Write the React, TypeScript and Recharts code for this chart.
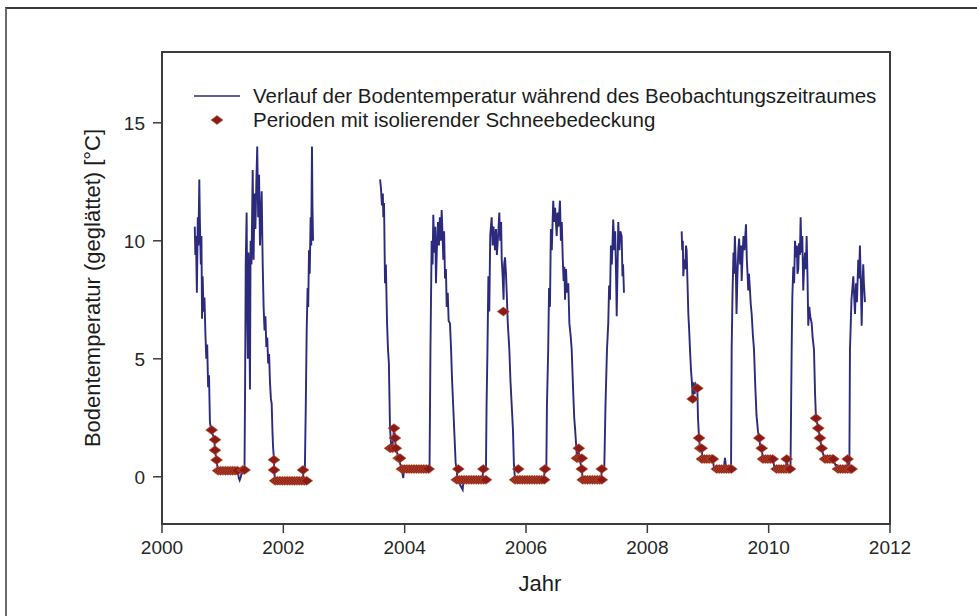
import { ComposedChart, Line, Scatter, XAxis, YAxis, ReferenceArea, Label } from 'recharts'

const yearTicks = [2000, 2002, 2004, 2006, 2008, 2010, 2012]
const tempTicks = [0, 5, 10, 15]

// [year, smoothed soil temperature]
const record2000to2002: [number, number][] = [
  [2000.54, 10.6], [2000.55, 9.4], [2000.56, 10.2], [2000.575, 7.8], [2000.59, 11.0], [2000.6, 9.8],
  [2000.615, 12.6], [2000.625, 10.8], [2000.64, 9.0], [2000.65, 10.2], [2000.66, 6.7], [2000.67, 8.5],
  [2000.685, 7.0], [2000.7, 7.6], [2000.715, 6.1], [2000.73, 5.0], [2000.745, 5.6], [2000.76, 3.8],
  [2000.775, 4.3], [2000.79, 2.3], [2000.81, 2.0], [2000.86, 1.6], [2000.875, 1.1], [2000.9, 0.7],
  [2000.92, 0.3], [2001.25, 0.3], [2001.265, -0.05], [2001.28, -0.15], [2001.3, 0.0], [2001.32, 0.3],
  [2001.36, 0.3], [2001.37, 4.0], [2001.38, 9.0], [2001.395, 11.2], [2001.405, 7.0], [2001.415, 5.0],
  [2001.425, 9.5], [2001.435, 8.0], [2001.45, 3.7], [2001.46, 10.0], [2001.475, 9.0], [2001.495, 13.0],
  [2001.51, 9.2], [2001.525, 12.0], [2001.54, 10.5], [2001.555, 12.5], [2001.57, 14.0], [2001.585, 11.0],
  [2001.6, 12.8], [2001.615, 9.8], [2001.63, 11.0], [2001.643, 12.1], [2001.66, 9.0], [2001.675, 7.2],
  [2001.69, 6.2], [2001.705, 6.8], [2001.72, 5.5], [2001.735, 5.9], [2001.75, 4.8], [2001.765, 5.2],
  [2001.78, 4.0], [2001.795, 3.3], [2001.808, 3.1], [2001.82, 2.0], [2001.83, 1.3], [2001.846, 0.72],
  [2001.85, 0.29], [2001.863, -0.17], [2002.32, -0.17], [2002.335, 0.3], [2002.355, 0.3], [2002.37, 3.0],
  [2002.385, 6.2], [2002.4, 8.0], [2002.41, 7.2], [2002.423, 9.6], [2002.435, 8.6], [2002.45, 11.0],
  [2002.46, 9.8], [2002.472, 14.0], [2002.48, 11.5], [2002.49, 10.0],
]

const record2003to2007: [number, number][] = [
  [2003.595, 12.6], [2003.61, 12.2], [2003.625, 11.5], [2003.64, 12.0], [2003.648, 11.0], [2003.66, 11.6],
  [2003.676, 8.2], [2003.69, 9.0], [2003.71, 6.5], [2003.725, 5.4], [2003.74, 4.8], [2003.758, 2.1],
  [2003.78, 1.21], [2003.8, 1.3], [2003.824, 2.06], [2003.84, 1.64], [2003.855, 1.21], [2003.9, 0.79],
  [2003.951, 0.33], [2003.977, -0.05], [2003.99, 0.33], [2004.41, 0.33],
  [2004.425, 5.4], [2004.445, 10.0], [2004.46, 9.0], [2004.472, 11.1], [2004.49, 9.5], [2004.505, 10.6],
  [2004.516, 8.2], [2004.53, 9.6], [2004.549, 10.8], [2004.565, 9.8], [2004.58, 11.0], [2004.595, 10.0],
  [2004.61, 11.3], [2004.625, 10.2], [2004.637, 9.2], [2004.65, 10.4], [2004.665, 8.4], [2004.68, 8.8],
  [2004.693, 7.2], [2004.71, 7.8], [2004.725, 6.6], [2004.747, 6.5], [2004.765, 5.4], [2004.78, 4.2],
  [2004.8, 3.0], [2004.82, 1.8], [2004.84, 0.6], [2004.857, 0.33], [2004.87, -0.13], [2004.956, -0.55],
  [2004.97, -0.13], [2005.28, -0.13], [2005.297, 0.33], [2005.34, 0.33],
  [2005.35, 3.0], [2005.365, 5.4], [2005.38, 8.5], [2005.395, 7.0], [2005.41, 10.2], [2005.434, 11.0],
  [2005.45, 9.8], [2005.465, 10.6], [2005.489, 9.6], [2005.505, 10.5], [2005.52, 9.4], [2005.54, 10.2],
  [2005.56, 11.2], [2005.575, 10.0], [2005.59, 10.8], [2005.6, 9.2], [2005.615, 8.5], [2005.63, 7.5],
  [2005.64, 9.0], [2005.654, 9.3], [2005.67, 8.6], [2005.682, 7.8], [2005.7, 6.5], [2005.725, 5.4],
  [2005.745, 4.0], [2005.765, 3.0], [2005.785, 2.0], [2005.8, 0.6], [2005.818, -0.13], [2006.29, -0.13],
  [2006.313, 0.33], [2006.335, 0.33],
  [2006.345, 3.0], [2006.366, 5.4], [2006.38, 8.0], [2006.395, 7.2], [2006.41, 10.5], [2006.425, 9.6],
  [2006.449, 11.7], [2006.465, 10.8], [2006.48, 11.4], [2006.506, 10.2], [2006.52, 11.2], [2006.535, 10.6],
  [2006.56, 11.7], [2006.575, 10.0], [2006.59, 10.8], [2006.605, 9.3], [2006.62, 8.3], [2006.633, 8.9],
  [2006.643, 7.5], [2006.66, 8.8], [2006.675, 7.8], [2006.697, 8.2], [2006.715, 6.5], [2006.735, 6.0],
  [2006.753, 5.4], [2006.775, 3.8], [2006.795, 2.5], [2006.81, 2.0], [2006.84, 0.79], [2006.87, 1.21],
  [2006.88, 0.79], [2006.92, 0.33], [2006.935, -0.13], [2007.24, -0.13], [2007.248, 0.33], [2007.29, 0.33],
  [2007.31, 3.0], [2007.335, 5.4], [2007.356, 6.5], [2007.37, 8.1], [2007.384, 7.5], [2007.4, 9.8],
  [2007.415, 9.0], [2007.438, 10.9], [2007.455, 9.6], [2007.47, 10.4], [2007.485, 8.5], [2007.495, 6.8],
  [2007.51, 9.0], [2007.521, 10.8], [2007.54, 9.6], [2007.555, 10.4], [2007.577, 10.2], [2007.59, 8.5],
  [2007.6, 9.0], [2007.615, 7.8],
]

const record2008to2011: [number, number][] = [
  [2008.566, 10.4], [2008.575, 9.6], [2008.585, 10.0], [2008.593, 8.5], [2008.61, 9.2], [2008.625, 8.8],
  [2008.637, 9.8], [2008.648, 9.6], [2008.66, 8.4], [2008.676, 6.9], [2008.69, 6.2], [2008.703, 5.4],
  [2008.72, 4.5], [2008.735, 4.0], [2008.747, 3.3], [2008.765, 4.0], [2008.78, 3.5], [2008.8, 3.9],
  [2008.824, 3.75], [2008.835, 2.5], [2008.852, 1.64], [2008.87, 1.21], [2008.896, 1.21], [2008.91, 0.75],
  [2009.08, 0.75], [2009.1, 0.33], [2009.26, 0.33], [2009.28, 0.8], [2009.3, 0.33], [2009.38, 0.33],
  [2009.39, 5.4], [2009.405, 7.9], [2009.42, 9.5], [2009.43, 8.6], [2009.443, 10.2], [2009.458, 9.0],
  [2009.47, 6.9], [2009.485, 8.5], [2009.5, 9.6], [2009.513, 10.1], [2009.53, 9.0], [2009.545, 9.8],
  [2009.555, 8.3], [2009.57, 9.4], [2009.585, 10.2], [2009.6, 9.6], [2009.61, 10.0], [2009.626, 10.7],
  [2009.64, 9.2], [2009.652, 8.6], [2009.663, 7.9], [2009.675, 8.6], [2009.69, 8.0], [2009.705, 7.3],
  [2009.72, 6.9], [2009.74, 6.0], [2009.758, 5.4], [2009.78, 3.8], [2009.8, 2.6], [2009.825, 1.9],
  [2009.845, 1.64], [2009.865, 1.21], [2009.885, 1.21], [2009.905, 0.75], [2010.07, 0.75], [2010.1, 0.33],
  [2010.28, 0.33], [2010.297, 0.75], [2010.32, 0.33], [2010.36, 0.33],
  [2010.37, 3.0], [2010.379, 5.4], [2010.39, 7.6], [2010.406, 8.9], [2010.42, 8.2], [2010.434, 10.0],
  [2010.45, 9.3], [2010.465, 9.8], [2010.475, 8.6], [2010.488, 8.8], [2010.5, 9.9], [2010.515, 9.4],
  [2010.527, 11.0], [2010.54, 9.5], [2010.555, 10.2], [2010.57, 7.9], [2010.585, 9.0], [2010.6, 9.5],
  [2010.613, 8.8], [2010.626, 10.2], [2010.64, 8.5], [2010.653, 6.4], [2010.67, 7.2], [2010.685, 6.8],
  [2010.709, 6.5], [2010.725, 5.9], [2010.747, 5.4], [2010.765, 3.5], [2010.78, 2.48], [2010.818, 2.06],
  [2010.846, 1.64], [2010.874, 1.21], [2010.9, 0.95], [2010.929, 0.75], [2011.066, 0.75], [2011.1, 0.5],
  [2011.12, 0.5], [2011.143, 0.33], [2011.29, 0.33], [2011.302, 0.75], [2011.33, 0.33],
  [2011.34, 5.4], [2011.35, 6.2], [2011.365, 7.5], [2011.38, 8.0], [2011.395, 8.5], [2011.41, 7.6],
  [2011.423, 6.9], [2011.44, 8.2], [2011.455, 7.4], [2011.477, 9.2], [2011.49, 8.4], [2011.504, 9.8],
  [2011.52, 8.2], [2011.533, 6.4], [2011.545, 8.0], [2011.559, 9.0], [2011.57, 8.2], [2011.587, 7.4],
]

// years without measurements
const gapYears = [2003.0, 2008.1]

// periods with insulating snow cover [year, temperature]
const snowCover: [number, number][] = [
  [2000.819, 1.98], [2000.874, 1.57], [2000.874, 1.13], [2000.9, 0.71],
  [2000.925, 0.26], [2000.965, 0.26], [2001.005, 0.26], [2001.045, 0.26], [2001.085, 0.26],
  [2001.125, 0.26], [2001.165, 0.26], [2001.205, 0.26], [2001.245, 0.26], [2001.33, 0.29], [2001.36, 0.29],
  [2001.846, 0.72], [2001.846, 0.29],
  [2001.865, -0.17], [2001.905, -0.17], [2001.945, -0.17], [2001.985, -0.17], [2002.025, -0.17],
  [2002.065, -0.17], [2002.105, -0.17], [2002.145, -0.17], [2002.185, -0.17], [2002.225, -0.17],
  [2002.265, -0.17], [2002.305, -0.17], [2002.345, -0.17], [2002.385, -0.17], [2002.324, 0.29],
  [2003.76, 1.21], [2003.8, 1.21], [2003.824, 2.06], [2003.84, 1.64], [2003.855, 1.21],
  [2003.9, 0.79], [2003.925, 0.79],
  [2003.955, 0.33], [2003.995, 0.33], [2004.035, 0.33], [2004.075, 0.33], [2004.115, 0.33], [2004.155, 0.33],
  [2004.195, 0.33], [2004.235, 0.33], [2004.275, 0.33], [2004.315, 0.33], [2004.355, 0.33], [2004.395, 0.33],
  [2004.884, 0.33],
  [2004.86, -0.13], [2004.9, -0.13], [2004.94, -0.13], [2004.98, -0.13], [2005.02, -0.13], [2005.06, -0.13],
  [2005.1, -0.13], [2005.14, -0.13], [2005.18, -0.13], [2005.22, -0.13], [2005.26, -0.13], [2005.3, -0.13],
  [2005.34, -0.13], [2005.297, 0.33],
  [2005.626, 7.0],
  [2005.873, 0.33],
  [2005.82, -0.13], [2005.86, -0.13], [2005.9, -0.13], [2005.94, -0.13], [2005.98, -0.13], [2006.02, -0.13],
  [2006.06, -0.13], [2006.1, -0.13], [2006.14, -0.13], [2006.18, -0.13], [2006.22, -0.13], [2006.26, -0.13],
  [2006.3, -0.13], [2006.313, 0.33],
  [2006.87, 1.21], [2006.84, 0.79], [2006.88, 0.79], [2006.92, 0.79], [2006.92, 0.33],
  [2006.935, -0.13], [2006.975, -0.13], [2007.015, -0.13], [2007.055, -0.13], [2007.095, -0.13],
  [2007.135, -0.13], [2007.175, -0.13], [2007.215, -0.13], [2007.25, -0.13], [2007.248, 0.33],
  [2008.747, 3.3], [2008.824, 3.75], [2008.852, 1.64], [2008.87, 1.21], [2008.896, 1.21],
  [2008.9, 0.75], [2008.94, 0.75], [2008.98, 0.75], [2009.02, 0.75], [2009.06, 0.75], [2009.08, 0.75],
  [2009.145, 0.33], [2009.185, 0.33], [2009.225, 0.33], [2009.265, 0.33], [2009.305, 0.33], [2009.345, 0.33],
  [2009.385, 0.33],
  [2009.845, 1.64], [2009.885, 1.21],
  [2009.907, 0.75], [2009.947, 0.75], [2009.987, 0.75], [2010.027, 0.75], [2010.067, 0.75],
  [2010.13, 0.33], [2010.17, 0.33], [2010.21, 0.33], [2010.25, 0.33], [2010.29, 0.33], [2010.33, 0.33],
  [2010.352, 0.33], [2010.297, 0.75],
  [2010.78, 2.48], [2010.818, 2.06], [2010.846, 1.64], [2010.874, 1.21],
  [2010.93, 0.75], [2010.97, 0.75], [2011.01, 0.75], [2011.05, 0.75], [2011.066, 0.75],
  [2011.143, 0.33], [2011.183, 0.33], [2011.223, 0.33], [2011.263, 0.33], [2011.303, 0.33], [2011.343, 0.33],
  [2011.368, 0.33], [2011.302, 0.75],
]

const toRows = (pairs: [number, number][]) => pairs.map(([year, temp]) => ({ year, temp }))

const lineData = [
  ...toRows(record2000to2002),
  { year: gapYears[0], temp: null },
  ...toRows(record2003to2007),
  { year: gapYears[1], temp: null },
  ...toRows(record2008to2011),
]
const snowData = toRows(snowCover)

const FONT = '"Liberation Sans", Arial, sans-serif'
const LINE_COLOR = '#2b2a7c'
const SNOW_FILL = '#8b1a1a'
const SNOW_EDGE = '#c2622e'
const AXIS_COLOR = '#3c3c3c'

function Diamond(props: any) {
  const { cx, cy } = props
  if (cx == null || cy == null) return null
  return (
    <polygon
      points={`${cx - 6},${cy} ${cx},${cy - 4.5} ${cx + 6},${cy} ${cx},${cy + 4.5}`}
      fill={SNOW_FILL}
      stroke={SNOW_EDGE}
      strokeWidth={0.6}
    />
  )
}

function ChartLegend() {
  const row = { position: 'absolute' as const, left: 194, height: 24, display: 'flex', alignItems: 'center' }
  const text = { marginLeft: 13, fontSize: 20.5, color: '#1c1c1c', whiteSpace: 'nowrap' as const }
  return (
    <>
      <div style={{ ...row, top: 84 }}>
        <svg width={46} height={24}>
          <line x1={0} y1={12} x2={46} y2={12} stroke={LINE_COLOR} strokeWidth={1.6} />
        </svg>
        <span style={text}>Verlauf der Bodentemperatur während des Beobachtungszeitraumes</span>
      </div>
      <div style={{ ...row, top: 108 }}>
        <svg width={46} height={24}>
          <Diamond cx={23} cy={12} />
        </svg>
        <span style={text}>Perioden mit isolierender Schneebedeckung</span>
      </div>
    </>
  )
}

export default function App() {
  return (
    <div
      style={{
        position: 'absolute',
        left: 0,
        top: 0,
        width: 977,
        height: 616,
        background: '#fff',
        fontFamily: FONT,
        overflow: 'hidden',
      }}
    >
      <div
        style={{
          position: 'absolute',
          left: 5,
          top: 7,
          width: 990,
          height: 630,
          borderTop: '2px solid #3a3a3a',
          borderLeft: '2px solid #6a6a6a',
        }}
      />
      <ComposedChart width={977} height={616} margin={{ top: 52, right: 87, bottom: 12, left: 62 }}>
        <XAxis
          type="number"
          dataKey="year"
          domain={[2000, 2012]}
          ticks={yearTicks}
          allowDataOverflow
          height={80}
          tickSize={9}
          tickMargin={8}
          axisLine={{ stroke: AXIS_COLOR, strokeWidth: 2 }}
          tickLine={{ stroke: AXIS_COLOR, strokeWidth: 1.5 }}
          tick={{ fontSize: 19, fill: '#262626', fontFamily: FONT }}
        >
          <Label
            content={({ viewBox }: any) => (
              <text
                x={viewBox.x + viewBox.width / 2 + 14}
                y={viewBox.y + 67}
                textAnchor="middle"
                fontSize={22}
                fill="#1c1c1c"
                fontFamily={FONT}
              >
                Jahr
              </text>
            )}
          />
        </XAxis>
        <YAxis
          type="number"
          dataKey="temp"
          domain={[-2, 18]}
          ticks={tempTicks}
          allowDataOverflow
          width={100}
          tickSize={9}
          tickMargin={8}
          axisLine={{ stroke: AXIS_COLOR, strokeWidth: 2 }}
          tickLine={{ stroke: AXIS_COLOR, strokeWidth: 1.5 }}
          tick={{ fontSize: 19, fill: '#262626', fontFamily: FONT }}
        >
          <Label
            content={({ viewBox }: any) => {
              const x = viewBox.x + 30
              const y = viewBox.y + viewBox.height / 2
              return (
                <text
                  x={x}
                  y={y}
                  transform={`rotate(-90, ${x}, ${y})`}
                  textAnchor="middle"
                  dominantBaseline="central"
                  fontSize={22}
                  fill="#1c1c1c"
                  fontFamily={FONT}
                >
                  Bodentemperatur (geglättet) [°C]
                </text>
              )
            }}
          />
        </YAxis>
        <ReferenceArea
          x1={2000}
          x2={2012}
          y1={-2}
          y2={18}
          fill="none"
          fillOpacity={0}
          stroke={AXIS_COLOR}
          strokeWidth={2}
        />
        <Line
          data={lineData}
          dataKey="temp"
          type="linear"
          stroke={LINE_COLOR}
          strokeWidth={1.9}
          dot={false}
          connectNulls={false}
          isAnimationActive={false}
        />
        <Scatter data={snowData} dataKey="temp" shape={<Diamond />} isAnimationActive={false} />
      </ComposedChart>
      <ChartLegend />
    </div>
  )
}
